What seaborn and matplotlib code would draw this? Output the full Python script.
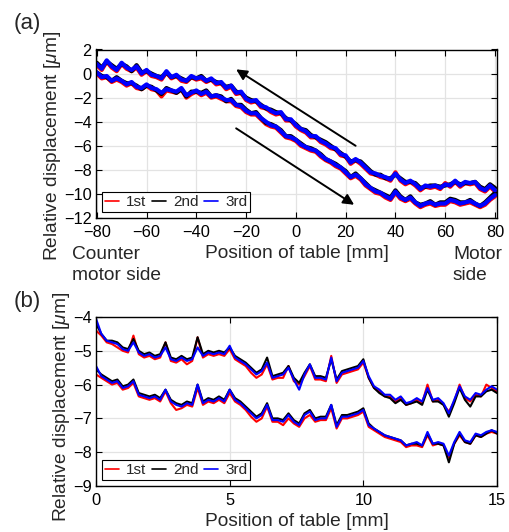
import matplotlib
matplotlib.use("Agg")
import matplotlib.pyplot as plt
from matplotlib.lines import Line2D
import numpy as np
import pandas as pd
import seaborn as sns

# ---------------- data ----------------
runs = ["1st", "2nd", "3rd"]
run_colors = {"1st": "#ff0000", "2nd": "#000000", "3rd": "#0000ff"}

# panel (a): position of table [mm], 2 mm step
pos_a = list(range(-80, 81, 2))

# upper branch (return stroke)
up_a_1st = [0.7, 0.3, 1.0, 0.5, 0.2, 0.8, 0.4, 0.2, 0.5, -0.1,
            0.2, -0.2, -0.3, -0.5, 0.1, -0.4, -0.2, -0.6, -0.7, -0.3,
            -0.5, -0.4, -0.7, -0.5, -0.9, -0.8, -1.3, -1.1, -1.7, -1.6,
            -2.2, -2.4, -2.3, -2.8, -2.9, -3.2, -3.4, -3.3, -3.9, -3.9,
            -4.4, -4.7, -4.9, -5.3, -5.3, -5.7, -5.9, -6.2, -6.3, -6.8,
            -6.9, -7.5, -7.2, -7.5, -7.9, -8.3, -8.4, -8.6, -8.7, -8.9,
            -8.2, -8.9, -9.2, -9.0, -9.3, -9.7, -9.4, -9.5, -9.4, -9.6,
            -9.1, -9.4, -9.0, -9.4, -9.1, -9.2, -9.1, -9.6, -9.8, -9.4,
            -9.8]
up_a_2nd = [0.9, 0.5, 1.0, 0.7, 0.4, 0.8, 0.6, 0.2, 0.7, 0.1,
            0.2, 0.0, -0.2, -0.3, 0.1, -0.3, -0.2, -0.4, -0.6, -0.3,
            -0.4, -0.2, -0.6, -0.5, -0.7, -0.8, -1.1, -1.0, -1.5, -1.6,
            -2.0, -2.2, -2.3, -2.6, -2.9, -3.0, -3.2, -3.3, -3.7, -3.9,
            -4.2, -4.6, -4.7, -5.1, -5.3, -5.5, -5.7, -6.0, -6.3, -6.6,
            -6.9, -7.3, -7.2, -7.3, -7.7, -8.1, -8.4, -8.4, -8.7, -8.7,
            -8.4, -8.7, -9.0, -9.0, -9.1, -9.5, -9.4, -9.3, -9.3, -9.4,
            -9.3, -9.2, -9.0, -9.2, -9.1, -9.1, -9.0, -9.4, -9.6, -9.2,
            -9.5]
up_a_3rd = [0.8, 0.4, 1.1, 0.6, 0.3, 0.9, 0.5, 0.3, 0.6, 0.0,
            0.3, -0.1, -0.2, -0.4, 0.2, -0.3, -0.1, -0.5, -0.6, -0.2,
            -0.4, -0.3, -0.6, -0.4, -0.8, -0.7, -1.2, -1.0, -1.6, -1.5,
            -2.1, -2.3, -2.2, -2.7, -2.8, -3.1, -3.3, -3.2, -3.8, -3.8,
            -4.3, -4.6, -4.8, -5.2, -5.2, -5.6, -5.8, -6.1, -6.2, -6.7,
            -6.8, -7.4, -7.1, -7.4, -7.8, -8.2, -8.3, -8.5, -8.6, -8.8,
            -8.3, -8.8, -9.1, -8.9, -9.2, -9.6, -9.3, -9.4, -9.3, -9.5,
            -9.2, -9.3, -8.9, -9.3, -9.0, -9.1, -9.0, -9.5, -9.7, -9.3,
            -9.7]

# lower branch (forward stroke)
lo_a_1st = [0.0, -0.4, -0.3, -0.7, -0.5, -0.7, -1.0, -0.8, -1.2, -1.3,
            -1.0, -1.3, -1.4, -1.9, -1.4, -1.5, -1.6, -1.3, -2.0, -1.7,
            -1.5, -1.8, -1.6, -2.0, -1.9, -2.1, -2.3, -2.3, -2.7, -2.8,
            -3.2, -3.4, -3.4, -3.8, -4.2, -4.4, -4.5, -4.9, -5.3, -5.4,
            -5.6, -6.0, -6.2, -6.4, -6.5, -6.9, -7.2, -7.4, -7.7, -7.9,
            -8.3, -8.7, -8.5, -8.8, -9.3, -9.6, -9.9, -10.0, -10.3, -10.5,
            -9.9, -10.4, -10.6, -10.4, -10.8, -11.1, -10.9, -10.8, -11.0, -10.9,
            -10.9, -10.6, -10.7, -10.9, -10.8, -10.7, -10.9, -11.1, -10.9, -10.5,
            -10.2]
lo_a_2nd = [0.1, -0.2, -0.3, -0.6, -0.3, -0.6, -0.8, -0.8, -1.0, -1.3,
            -1.0, -1.1, -1.4, -1.7, -1.2, -1.4, -1.6, -1.3, -1.9, -1.5,
            -1.5, -1.6, -1.4, -1.9, -1.8, -1.9, -2.3, -2.1, -2.6, -2.6,
            -3.0, -3.3, -3.2, -3.7, -4.1, -4.2, -4.4, -4.7, -5.2, -5.2,
            -5.5, -5.8, -6.1, -6.2, -6.4, -6.7, -7.1, -7.3, -7.5, -7.8,
            -8.1, -8.6, -8.3, -8.7, -9.1, -9.5, -9.7, -9.9, -10.1, -10.3,
            -9.7, -10.2, -10.5, -10.2, -10.7, -10.9, -10.8, -10.6, -10.9, -10.7,
            -10.7, -10.4, -10.5, -10.7, -10.7, -10.5, -10.8, -11.0, -10.7, -10.3,
            -9.9]
lo_a_3rd = [0.1, -0.3, -0.2, -0.6, -0.4, -0.6, -0.9, -0.7, -1.1, -1.2,
            -0.9, -1.2, -1.3, -1.6, -1.3, -1.4, -1.5, -1.2, -1.8, -1.6,
            -1.4, -1.7, -1.5, -1.9, -1.8, -2.0, -2.2, -2.2, -2.6, -2.7,
            -3.1, -3.3, -3.3, -3.7, -4.0, -4.3, -4.4, -4.8, -5.2, -5.3,
            -5.5, -5.9, -6.1, -6.3, -6.4, -6.8, -7.1, -7.3, -7.6, -7.8,
            -8.2, -8.6, -8.4, -8.7, -9.2, -9.5, -9.8, -9.9, -10.2, -10.4,
            -9.8, -10.3, -10.5, -10.3, -10.7, -11.0, -10.8, -10.7, -10.9, -10.8,
            -10.8, -10.5, -10.6, -10.8, -10.7, -10.6, -10.8, -11.0, -10.8, -10.4,
            -10.1]

# panel (b): position of table [mm], 0.2 mm step
pos_b = [round(0.2 * i, 1) for i in range(76)]

up_b_1st = [-4.4, -4.55, -4.75, -4.8, -4.9, -5.0, -5.05, -4.55, -5.1, -5.2,
            -5.15, -5.25, -5.2, -4.75, -5.3, -5.35, -5.25, -5.4, -5.3, -4.6,
            -5.2, -5.1, -5.15, -5.1, -5.15, -4.95, -5.25, -5.35, -5.45, -5.65,
            -5.8, -5.7, -5.4, -5.85, -5.8, -5.8, -5.45, -5.9, -6.0, -5.75,
            -5.45, -5.85, -5.85, -5.9, -5.15, -5.95, -5.7, -5.65, -5.6, -5.55,
            -5.35, -5.8, -6.1, -6.2, -6.35, -6.35, -6.5, -6.4, -6.6, -6.55,
            -6.45, -6.55, -6.0, -6.5, -6.45, -6.6, -6.8, -6.5, -6.0, -6.4,
            -6.5, -6.3, -6.35, -6.0, -6.1, -6.2]
up_b_2nd = [-4.2, -4.5, -4.7, -4.7, -4.75, -4.9, -4.95, -4.65, -5.0, -5.1,
            -5.05, -5.15, -5.1, -4.75, -5.2, -5.25, -5.15, -5.25, -5.2, -4.6,
            -5.1, -5.0, -5.05, -5.0, -5.05, -4.9, -5.15, -5.25, -5.35, -5.5,
            -5.65, -5.55, -5.2, -5.75, -5.7, -5.65, -5.45, -5.8, -5.95, -5.65,
            -5.4, -5.75, -5.75, -5.8, -5.25, -5.85, -5.6, -5.55, -5.5, -5.45,
            -5.25, -5.8, -6.1, -6.25, -6.35, -6.4, -6.55, -6.45, -6.6, -6.55,
            -6.5, -6.6, -6.15, -6.5, -6.5, -6.6, -6.95, -6.55, -6.1, -6.45,
            -6.65, -6.35, -6.35, -6.2, -6.15, -6.25]
up_b_3rd = [-4.05, -4.5, -4.7, -4.75, -4.8, -4.95, -5.0, -4.75, -5.05, -5.15,
            -5.1, -5.2, -5.15, -4.9, -5.25, -5.3, -5.2, -5.3, -5.25, -4.9,
            -5.15, -5.05, -5.1, -5.05, -5.1, -4.85, -5.2, -5.3, -5.4, -5.55,
            -5.7, -5.6, -5.35, -5.8, -5.75, -5.7, -5.5, -5.85, -6.15, -5.7,
            -5.4, -5.8, -5.8, -5.85, -5.2, -5.9, -5.65, -5.6, -5.55, -5.5,
            -5.3, -5.75, -6.05, -6.15, -6.3, -6.3, -6.45, -6.35, -6.55, -6.5,
            -6.4, -6.5, -6.1, -6.45, -6.4, -6.55, -6.85, -6.45, -6.05, -6.35,
            -6.45, -6.25, -6.3, -6.15, -6.05, -6.15]

lo_b_1st = [-5.7, -5.8, -5.9, -6.0, -5.95, -6.15, -6.1, -5.95, -6.35, -6.4,
            -6.45, -6.4, -6.5, -6.2, -6.55, -6.75, -6.7, -6.6, -6.65, -6.1,
            -6.6, -6.5, -6.55, -6.45, -6.55, -6.25, -6.5, -6.6, -6.75, -6.95,
            -7.1, -7.0, -6.65, -7.1, -7.1, -7.2, -7.0, -7.15, -7.25, -7.0,
            -6.9, -7.1, -7.05, -7.05, -6.7, -7.3, -7.0, -7.0, -6.95, -6.9,
            -6.8, -7.25, -7.35, -7.45, -7.55, -7.6, -7.65, -7.7, -7.85, -7.8,
            -7.8, -7.85, -7.5, -7.8, -7.75, -7.8, -8.15, -7.75, -7.5, -7.7,
            -7.75, -7.5, -7.55, -7.45, -7.4, -7.45]
lo_b_2nd = [-5.55, -5.7, -5.8, -5.9, -5.85, -6.05, -6.0, -5.85, -6.25, -6.3,
            -6.35, -6.3, -6.4, -6.15, -6.45, -6.55, -6.6, -6.5, -6.55, -6.0,
            -6.5, -6.4, -6.45, -6.35, -6.45, -6.15, -6.4, -6.5, -6.65, -6.8,
            -6.95, -6.85, -6.55, -7.0, -7.0, -7.05, -6.85, -7.05, -7.15, -6.85,
            -6.75, -7.0, -6.95, -6.95, -6.6, -7.2, -6.9, -6.9, -6.85, -6.8,
            -6.7, -7.15, -7.3, -7.4, -7.5, -7.55, -7.6, -7.65, -7.8, -7.75,
            -7.75, -7.8, -7.45, -7.75, -7.75, -7.8, -8.3, -7.75, -7.45, -7.7,
            -7.75, -7.5, -7.55, -7.45, -7.35, -7.45]
lo_b_3rd = [-5.45, -5.75, -5.85, -5.95, -5.9, -6.1, -6.05, -5.9, -6.3, -6.35,
            -6.4, -6.35, -6.45, -6.15, -6.5, -6.6, -6.65, -6.55, -6.6, -6.0,
            -6.55, -6.45, -6.5, -6.4, -6.5, -6.15, -6.45, -6.55, -6.7, -6.85,
            -7.0, -6.9, -6.6, -7.05, -7.05, -7.1, -6.9, -7.1, -7.2, -6.9,
            -6.8, -7.05, -7.0, -7.0, -6.6, -7.25, -6.95, -6.95, -6.9, -6.85,
            -6.75, -7.2, -7.3, -7.4, -7.5, -7.55, -7.6, -7.65, -7.8, -7.75,
            -7.7, -7.8, -7.4, -7.75, -7.7, -7.75, -8.1, -7.7, -7.4, -7.65,
            -7.7, -7.45, -7.5, -7.4, -7.35, -7.4]

xticks_a = [-80, -60, -40, -20, 0, 20, 40, 60, 80]
yticks_a = [2, 0, -2, -4, -6, -8, -10, -12]
xticks_b = [0, 5, 10, 15]
yticks_b = [-4, -5, -6, -7, -8, -9]


def long_frame(pos, series):
    rows = []
    for (run, branch), vals in series.items():
        for p, v in zip(pos, vals):
            rows.append({"pos": p, "disp": v, "run": run, "branch": branch})
    return pd.DataFrame(rows)


df_a = long_frame(pos_a, {
    ("1st", "up"): up_a_1st, ("1st", "lo"): lo_a_1st,
    ("2nd", "up"): up_a_2nd, ("2nd", "lo"): lo_a_2nd,
    ("3rd", "up"): up_a_3rd, ("3rd", "lo"): lo_a_3rd,
})
df_b = long_frame(pos_b, {
    ("1st", "up"): up_b_1st, ("1st", "lo"): lo_b_1st,
    ("2nd", "up"): up_b_2nd, ("2nd", "lo"): lo_b_2nd,
    ("3rd", "up"): up_b_3rd, ("3rd", "lo"): lo_b_3rd,
})

# ---------------- styling ----------------
sns.set_theme(style="white")
plt.rcParams["font.family"] = ["Liberation Sans", "DejaVu Sans"]
plt.rcParams["mathtext.fontset"] = "custom"
plt.rcParams["mathtext.it"] = "Liberation Sans:italic"
plt.rcParams["mathtext.rm"] = "Liberation Sans"

W, H = 510, 532
fig = plt.figure(figsize=(W / 100, H / 100), dpi=100)


def px_rect(l, t, r, b):
    return [l / W, 1 - b / H, (r - l) / W, (b - t) / H]


ax1 = fig.add_axes(px_rect(96, 49.5, 497, 218))
ax2 = fig.add_axes(px_rect(96, 317, 497, 486))

TICK = 11.8
LEGF = 11.0
LAB = 13.8
PANEL = 16.0


def style_axis(ax):
    ax.grid(True, color="#e3e3e3", lw=0.9)
    ax.set_axisbelow(True)
    for s in ax.spines.values():
        s.set_visible(True)
        s.set_color("black")
        s.set_linewidth(1.0)
    ax.tick_params(direction="in", length=4, width=0.8, top=True, right=True,
                   bottom=True, left=True, labelsize=TICK, colors="black")
    ax.tick_params(axis="x", pad=5)
    ax.tick_params(axis="y", pad=3)


for ax, df, lw in ((ax1, df_a, 3.0), (ax2, df_b, 1.5)):
    sns.lineplot(data=df, x="pos", y="disp", hue="run", units="branch",
                 estimator=None, sort=False, palette=run_colors,
                 hue_order=runs, lw=lw, legend=False, ax=ax)
    style_axis(ax)
    handles = [Line2D([], [], color=run_colors[r], lw=1.2) for r in runs]
    leg = ax.legend(handles, runs, loc="lower left", ncol=3,
                    bbox_to_anchor=(0.014, 0.036), borderaxespad=0,
                    fontsize=LEGF, frameon=True, fancybox=False,
                    edgecolor="black", handlelength=0.95, handletextpad=0.45,
                    columnspacing=0.35, borderpad=0.2)
    leg.get_frame().set_linewidth(0.8)
    leg.get_frame().set_alpha(1)

ax1.set_xlim(-80.3, 80.8)
ax1.set_ylim(-12, 2)
ax1.set_xticks(xticks_a)
ax1.set_yticks(yticks_a)
ax1.set_xlabel("Position of table [mm]", fontsize=LAB, labelpad=4)
ax1.set_ylabel(r"Relative displacement [$\mu$m]", fontsize=LAB)
ax1.yaxis.set_label_coords((63 - 96) / 401, 0.43)

ax2.set_xlim(0, 15)
ax2.set_ylim(-9, -4)
ax2.set_xticks(xticks_b)
ax2.set_yticks(yticks_b)
ax2.set_xlabel("Position of table [mm]", fontsize=LAB, labelpad=4)
ax2.set_ylabel(r"Relative displacement [$\mu$m]", fontsize=LAB)
ax2.yaxis.set_label_coords((72 - 96) / 401, 0.47)

# direction arrows
arrow_kw = dict(arrowstyle="-|>", color="black", lw=1.4, mutation_scale=16,
                shrinkA=0, shrinkB=0)
ax1.annotate("", xy=(-24, 0.35), xytext=(24, -6.0), arrowprops=arrow_kw)
ax1.annotate("", xy=(23.4, -10.9), xytext=(-24, -4.55), arrowprops=arrow_kw)


def ftext(x, y, s, size=LAB, **kw):
    fig.text(x / W, 1 - y / H, s, fontsize=size, **kw)


ftext(14, 24, "(a)", size=PANEL, ha="left", va="center")
ftext(14, 302, "(b)", size=PANEL, ha="left", va="center")
ftext(72, 254, "Counter", ha="left", va="center")
ftext(72, 276, "motor side", ha="left", va="center")
ftext(453, 254, "Motor", ha="left", va="center")
ftext(453, 276, "side", ha="left", va="center")

fig.savefig("out.png", dpi=100)
